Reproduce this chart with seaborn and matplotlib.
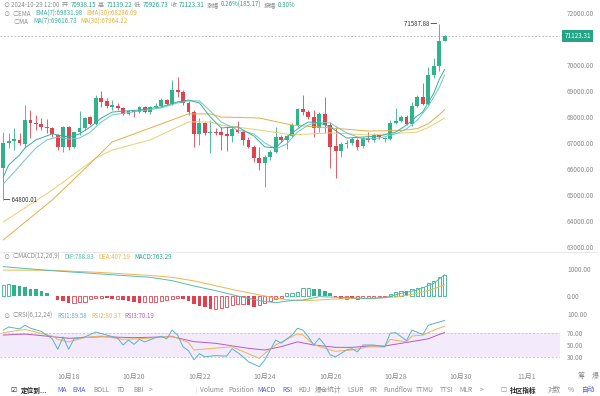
import numpy as np
import pandas as pd
import matplotlib
matplotlib.use('Agg')
import matplotlib.pyplot as plt
import seaborn as sns

# BTC 4h candles, 2024-10-16 00:00 .. 2024-10-29 12:00
first_candle = '2024-10-16 00:00'
opens = [66040, 67000, 67080, 67120, 66960, 67890, 67770, 67730, 67620, 67580,
         67310, 66850, 67620, 66850, 67420, 67580, 68000, 67730, 68730, 68620,
         68390, 68420, 68350, 68120, 68230, 68190, 68390, 68190, 68390, 68420,
         68650, 68500, 69040, 68960, 68540, 68190, 67350, 67770, 67390, 67420,
         67420, 67350, 67270, 67500, 67420, 67120, 66850, 66420, 66230, 66460,
         66650, 67230, 67120, 67270, 67690, 68310, 68190, 68000, 67580, 68120,
         67690, 66880, 66690, 66960, 67000, 67120, 66880, 67190, 67120, 67310,
         67150, 67150, 67770, 67850, 68000, 67730, 68420, 68770, 68500, 69620,
         69960, 70938.15]
highs = [67420, 67390, 67580, 67390, 68460, 68270, 68080, 67960, 67920, 67620,
         67350, 67650, 67650, 67440, 68230, 68000, 68040, 68850, 69000, 68730,
         68650, 68540, 68390, 68270, 68270, 68420, 68420, 68420, 68540, 68730,
         68690, 69420, 69540, 69040, 68620, 68270, 67960, 67810, 67880, 67580,
         67620, 67650, 67650, 67850, 67500, 67230, 66920, 66850, 66540, 66730,
         67620, 67310, 67310, 67770, 68350, 68850, 68270, 68270, 68190, 68770,
         67810, 67620, 67040, 67120, 67230, 67190, 67230, 67420, 67390, 67350,
         67230, 67880, 68350, 68080, 68080, 68580, 68850, 69310, 69920, 70270,
         71587.88, 71139.22]
lows = [64800.01, 66810, 66730, 66920, 66810, 67190, 67500, 67500, 67390, 67230,
        66730, 66650, 66730, 66810, 67310, 67500, 67690, 67690, 68390, 68350,
        68270, 68270, 68080, 68080, 68000, 68150, 68150, 68120, 68350, 68390,
        68460, 68460, 68770, 68460, 68080, 66850, 66920, 67310, 66620, 67310,
        66730, 66690, 67040, 67390, 66920, 66810, 66270, 65960, 65310, 66350,
        66620, 67040, 66770, 67230, 67620, 68080, 67920, 67230, 67420, 67390,
        66040, 65650, 66460, 66810, 66920, 66730, 66810, 67040, 67040, 67150,
        67040, 67120, 67730, 67810, 67690, 67650, 68390, 68460, 68460, 69500,
        69770, 70926.73]
closes = [67000, 67080, 67150, 67000, 67890, 67770, 67730, 67620, 67580, 67350,
          66850, 67620, 66850, 67420, 67580, 67960, 67730, 68730, 68580, 68420,
          68460, 68350, 68120, 68230, 68190, 68390, 68190, 68390, 68420, 68650,
          68500, 69040, 68960, 68540, 68190, 67350, 67770, 67390, 67420, 67400,
          67310, 67270, 67540, 67420, 67120, 66850, 66420, 66230, 66460, 66650,
          67230, 67120, 67270, 67690, 68310, 68190, 68000, 67580, 68120, 67690,
          66850, 66690, 66960, 67000, 67150, 66850, 67190, 67120, 67310, 67230,
          67190, 67770, 67850, 68000, 67730, 68420, 68770, 68500, 69620, 69960,
          70938.15, 71123.31]

# moving averages at these candles
ema7_at = [0, 1, 3, 4, 6, 9, 10, 12, 14, 16, 18, 20, 25, 29, 32, 34, 36, 38, 40,
           43, 46, 48, 50, 52, 55, 56, 58, 60, 63, 66, 69, 72, 74, 76, 77, 78, 79, 80, 81]
ema7 = [65690, 66150, 66540, 66810, 67120, 67350, 67310, 67230, 67350, 67620,
        67960, 68190, 68270, 68390, 68580, 68650, 68540, 68000, 67580, 67620,
        67270, 66850, 66810, 67230, 67690, 67810, 67770, 67620, 67190, 67230,
        67270, 67420, 67690, 68050, 68200, 68560, 68910, 69440, 69831.98]
ma7_at = [0, 2, 4, 6, 8, 10, 12, 14, 16, 18, 20, 25, 29, 32, 34, 36, 38, 40, 43,
          46, 48, 50, 52, 54, 56, 58, 60, 63, 66, 69, 72, 74, 76, 78, 80, 81]
ma7 = [65420, 65880, 66350, 66810, 67120, 67230, 67150, 67190, 67420, 67810,
       68080, 68230, 68350, 68540, 68620, 68620, 68230, 67810, 67500, 67350,
       67000, 66770, 66960, 67420, 67690, 67810, 67770, 67390, 67150, 67190,
       67350, 67540, 67880, 68410, 69130, 69616.73]
ema30_at = [0, 9, 17, 20, 27, 34, 38, 40, 47, 53, 60, 67, 73, 76, 78, 80, 81]
ema30 = [63270, 64810, 66420, 67040, 67580, 68120, 68120, 68000, 67960, 67690,
         67580, 67460, 67480, 67554, 67744, 68084, 68286.09]
ma30_at = [0, 9, 17, 20, 27, 34, 38, 40, 47, 53, 60, 67, 73, 76, 78, 80, 81]
ma30 = [63960, 65190, 66420, 66730, 67120, 67810, 67810, 67690, 67500, 67310,
        67390, 67310, 67380, 67420, 67600, 67836, 67964.22]

# MACD(12,26,9)
macd_hist = [395, 430, 425, 370, 345, 270, 245, 185, 123, 10,
             -148, -185, -270, -245, -220, -220, -98, -62, -62, -70,
             -98, -98, -148, -185, -220, -245, -220, -220, -220, -185,
             -148, -98, -62, -98, -185, -308, -370, -395, -468, -468,
             -430, -395, -345, -308, -308, -345, -395, -345, -270, -185,
             -98, -62, 100, 123, 148, 300, 300, 270, 250, 185,
             100, -37, -100, -100, -105, -100, -75, -75, -62, -37,
             -25, 60, 150, 185, 175, 270, 300, 345, 490, 550,
             715, 763.29]
dif_at = [0, 9, 18, 27, 31, 35, 39, 43, 47, 50, 53, 55, 58, 62, 67, 70, 73, 76, 79, 81]
dif = [1085, 937, 814, 691, 567, 370, 197, 0, -173, -247, -160, -148, -25, -49,
       -99, -62, 99, 222, 469, 788.83]
dea_at = [0, 9, 18, 27, 31, 35, 39, 43, 47, 50, 53, 56, 60, 64, 68, 72, 75, 78, 81]
dea = [960, 950, 870, 760, 690, 560, 380, 200, 40, -80, -160, -170, -120, -90,
       -80, -40, 60, 200, 407.19]

# RSI(6,12,24)
rsi1_at = [0, 1, 3, 4, 5, 7, 9, 10, 11, 12, 13, 15, 17, 19, 21, 22, 23, 24, 25, 26,
           28, 29, 30, 31, 32, 33, 34, 35, 36, 37, 39, 41, 42, 43, 44, 45, 47, 48,
           50, 51, 53, 54, 55, 56, 57, 58, 59, 60, 61, 63, 64, 65, 66, 68, 70, 71,
           72, 74, 75, 77, 78, 80, 81]
rsi1 = [74, 79, 76, 82, 77, 72, 60, 43, 63, 43, 60, 63, 71, 66, 61, 50, 58, 51, 59, 55,
        62, 64, 60, 74, 66, 47, 41, 26, 36, 31, 33, 32, 44, 38, 31, 23, 15, 26,
        58, 53, 66, 77, 74, 63, 50, 61, 50, 34, 31, 42, 44, 39, 50, 50, 47, 69,
        70, 57, 74, 67, 82, 87, 89.58]
rsi2_at = [0, 4, 9, 10, 12, 15, 18, 22, 27, 31, 34, 35, 39, 42, 47, 48, 50, 54, 55,
           57, 60, 61, 64, 67, 70, 71, 74, 75, 77, 78, 79, 81]
rsi2 = [70, 75, 64.5, 59, 55, 62, 64.5, 59, 61, 64.5, 54, 42, 45, 47, 28.5, 36.6,
        50, 68, 66, 50.5, 42, 40, 42, 47, 47, 59, 55, 64.5, 66, 70, 74, 80.37]
rsi3_at = [0, 4, 9, 12, 18, 24, 31, 35, 39, 45, 48, 51, 54, 57, 61, 64, 67, 70, 73,
           76, 78, 80, 81]
rsi3 = [66, 67.7, 63.4, 60.8, 63.4, 61.8, 63.4, 55.4, 52.7, 44.6, 41.9, 47.3, 55,
        50, 46.2, 46.2, 48.4, 48.4, 52.7, 57, 60, 67, 70.19]

date_ticks = ['2024-10-18', '2024-10-20', '2024-10-22', '2024-10-24',
              '2024-10-26', '2024-10-28', '2024-10-30', '2024-11-01']
date_labels = ['10月18', '10月20', '10月22', '10月24', '10月26', '10月28', '10月30', '11月1']
price_ticks = [63000, 64000, 65000, 66000, 67000, 68000, 69000, 70000, 72000]

GREEN, RED = '#2fb38a', '#e0434f'
TEAL, GRAY, BLUE = '#26a389', '#8c8c8c', '#4f5fcf'
EMA7_C, MA7_C, EMA30_C, MA30_C = '#3aae9f', '#72c6c2', '#e8ad45', '#e9cf72'
DIF_C, DEA_C = '#58baae', '#eeb64e'
RSI1_C, RSI2_C, RSI3_C = '#5ab2cc', '#f0b456', '#b35cc2'

sns.set_theme(style='white')
plt.rcParams['font.family'] = ['Noto Sans CJK SC', 'DejaVu Sans']

W, H = 600, 396
fig = plt.figure(figsize=(W / 100, H / 100), dpi=100)
fig.patch.set_facecolor('white')


def panel(top, bottom, right=560):
    return fig.add_axes([0, 1 - bottom / H, right / W, (bottom - top) / H])


ax = panel(0, 252)
ax_m = panel(252, 310)
ax_r = panel(310, 370)

df = pd.DataFrame({'open': opens, 'high': highs, 'low': lows, 'close': closes})
df['time'] = pd.date_range(first_candle, periods=len(df), freq='4h')
x = np.arange(len(df))
o, c = df['open'].values, df['close'].values
colors = np.where(c >= o, GREEN, RED)

# candles
ax.vlines(x, df['low'], df['high'], colors=colors, linewidth=0.6)
ax.bar(x, np.maximum(np.abs(c - o), 15), bottom=np.minimum(o, c), width=0.7,
       color=colors, linewidth=0)

for at, vals, col in [(ma30_at, ma30, MA30_C), (ema30_at, ema30, EMA30_C),
                      (ma7_at, ma7, MA7_C), (ema7_at, ema7, EMA7_C)]:
    sns.lineplot(x=at, y=vals, ax=ax, color=col, linewidth=0.7, estimator=None, sort=False)

last = closes[-1]
ax.axhline(last, color='#a0a0a0', linewidth=0.5, linestyle=(0, (2.5, 2.5)))
ax.text(1.008, last, f'{last:.2f}', transform=ax.get_yaxis_transform(), ha='left', va='center',
        color='white', fontsize=4.6, bbox=dict(boxstyle='square,pad=0.35', fc='#25a487', ec='none'))
top_i = int(np.argmax(highs))
low_i = int(np.argmin(lows))
ax.text(top_i - 0.4, highs[top_i], f'{highs[top_i]:.2f} ━', ha='right', va='center',
        fontsize=4.4, color='#333333')
ax.text(low_i + 0.1, lows[low_i], f'━ {lows[low_i]:.2f}', ha='left', va='center',
        fontsize=4.4, color='#333333')

ax.set_ylim(72500 - 38.46 * 252, 72500)
ax.set_yticks(price_ticks)
ax.set_yticklabels([f'{v:.2f}' for v in price_ticks])

# MACD panel
hist = np.array(macd_hist)
prev = np.concatenate([[hist[0]], hist[:-1]])
hcol = np.where(hist >= 0, GREEN, RED)
solid = hist < prev
ax_m.bar(x[solid], hist[solid], width=0.66, color=hcol[solid], linewidth=0)
ax_m.bar(x[~solid], hist[~solid], width=0.58, facecolor='none', edgecolor=hcol[~solid],
         linewidth=0.6)
sns.lineplot(x=dea_at, y=dea, ax=ax_m, color=DEA_C, linewidth=0.7, estimator=None)
sns.lineplot(x=dif_at, y=dif, ax=ax_m, color=DIF_C, linewidth=0.7, estimator=None)
ax_m.set_ylim(-518, 1628)
ax_m.set_yticks([0, 1000])
ax_m.set_yticklabels(['0.00', '1000.00'])

# RSI panel
ax_r.axhspan(30, 70, color='#f3eafb', linewidth=0)
for lvl in (30, 70):
    ax_r.axhline(lvl, color='#cdb8e0', linewidth=0.6, linestyle=(0, (2.5, 2)))
sns.lineplot(x=rsi3_at, y=rsi3, ax=ax_r, color=RSI3_C, linewidth=0.7, estimator=None)
sns.lineplot(x=rsi2_at, y=rsi2, ax=ax_r, color=RSI2_C, linewidth=0.7, estimator=None)
sns.lineplot(x=rsi1_at, y=rsi1, ax=ax_r, color=RSI1_C, linewidth=0.7, estimator=None)
ax_r.set_ylim(100 - (370 - 314) / 0.62, 100 + 4 / 0.62)
ax_r.set_yticks([30, 50, 70, 100])
ax_r.set_yticklabels(['30.00', '50.00', '70.00', '100.00'])

t0 = pd.Timestamp(first_candle)
tick_pos = [(pd.Timestamp(d) - t0) / pd.Timedelta('4h') for d in date_ticks]

for a in (ax, ax_m, ax_r):
    a.set_facecolor('white')
    a.set_xlim(-3.2 / 5.45, (560 - 3.2) / 5.45)
    a.yaxis.tick_right()
    a.tick_params(axis='y', length=0, pad=5, labelsize=4.7, labelcolor=GRAY)
    a.set_xlabel('')
    a.set_ylabel('')
    a.grid(False)
    for s in a.spines.values():
        s.set_visible(False)
    a.set_xticks(tick_pos)
    a.tick_params(axis='x', length=0, labelbottom=False)
ax_r.set_xticklabels(date_labels)
ax_r.tick_params(axis='x', labelbottom=True, pad=2, labelsize=5, labelcolor=GRAY)

fig.add_artist(plt.Line2D([0, 597 / W], [1 - 252 / H] * 2, color='#e4e4e4', linewidth=0.6))

# legend rows
renderer = fig.canvas.get_renderer()


def row(px, py, parts, size=4.4, gap=2.2):
    for s, col in parts:
        t = fig.text(px / W, 1 - py / H, s, color=col, fontsize=size, ha='left', va='center')
        px += t.get_window_extent(renderer).width + gap


row(3, 5, [('⊙', GRAY), ('2024-10-29 12:00', GRAY), ('开', GRAY), (f'{opens[-1]:.2f}', TEAL),
           ('高', GRAY), (f'{highs[-1]:.2f}', TEAL), ('低', GRAY), (f'{lows[-1]:.2f}', TEAL),
           ('收', GRAY), (f'{closes[-1]:.2f}', TEAL), ('涨幅', GRAY), ('0.26%(185.17)', TEAL),
           ('振幅', GRAY), ('0.30%', TEAL)])
row(3, 14, [('⊙', GRAY), ('○EMA', GRAY), (f'EMA(7):{ema7[-1]:.2f}', EMA7_C),
            (f'EMA(30):{ema30[-1]:.2f}', EMA30_C)], gap=4)
row(14, 22, [('○MA', GRAY), (f'MA(7):{ma7[-1]:.2f}', EMA7_C),
             (f'MA(30):{ma30[-1]:.2f}', '#dcb43c')], gap=4)
row(3, 257, [('⊙', GRAY), ('○MACD(12,26,9)', GRAY), (f'DIF:{dif[-1]:.2f}', DIF_C),
             (f'DEA:{dea[-1]:.2f}', DEA_C), (f'MACD:{macd_hist[-1]:.2f}', TEAL)], gap=4)
row(3, 316, [('⊙', GRAY), ('○RSI(6,12,24)', GRAY), (f'RSI1:{rsi1[-1]:.2f}', RSI1_C),
             (f'RSI2:{rsi2[-1]:.2f}', RSI2_C), (f'RSI3:{rsi3[-1]:.2f}', RSI3_C)], gap=4)

fig.text(578 / W, 1 - 376 / H, '筹', fontsize=5, color=GRAY, va='center')
fig.text(592 / W, 1 - 376 / H, '爆', fontsize=5, color=GRAY, va='center')

# toolbar at the bottom
toolbar = [('☑', 10, '#333333', 'normal'), ('定位到...', 21, '#222222', 'bold'),
           ('MA', 57, BLUE, 'normal'), ('EMA', 72, BLUE, 'normal'), ('BOLL', 93, GRAY, 'normal'),
           ('TD', 117, GRAY, 'normal'), ('BBI', 133, GRAY, 'normal'), ('>', 149, GRAY, 'normal'),
           ('|', 195, '#cccccc', 'normal'), ('Volume', 200, GRAY, 'normal'),
           ('Position', 228, GRAY, 'normal'), ('MACD', 257, BLUE, 'normal'),
           ('RSI', 282, BLUE, 'normal'), ('KDJ', 298, GRAY, 'normal'),
           ('爆仓统计', 315, GRAY, 'normal'), ('LSUR', 347, GRAY, 'normal'),
           ('FR', 369, GRAY, 'normal'), ('Fundflow', 383, GRAY, 'normal'),
           ('TTMU', 416, GRAY, 'normal'), ('TTSI', 440, GRAY, 'normal'),
           ('MLR', 459, GRAY, 'normal'), ('>', 480, GRAY, 'normal'), ('☐', 500, GRAY, 'normal'),
           ('社区指标', 510, '#222222', 'bold'), ('对数', 548, GRAY, 'normal'),
           ('%', 568, GRAY, 'normal'), ('自动', 582, BLUE, 'normal')]
for s, px, col, wt in toolbar:
    fig.text(px / W, 1 - 390 / H, s, fontsize=4.8, color=col, fontweight=wt, va='center')

fig.savefig('out.png', dpi=100, facecolor='white')
